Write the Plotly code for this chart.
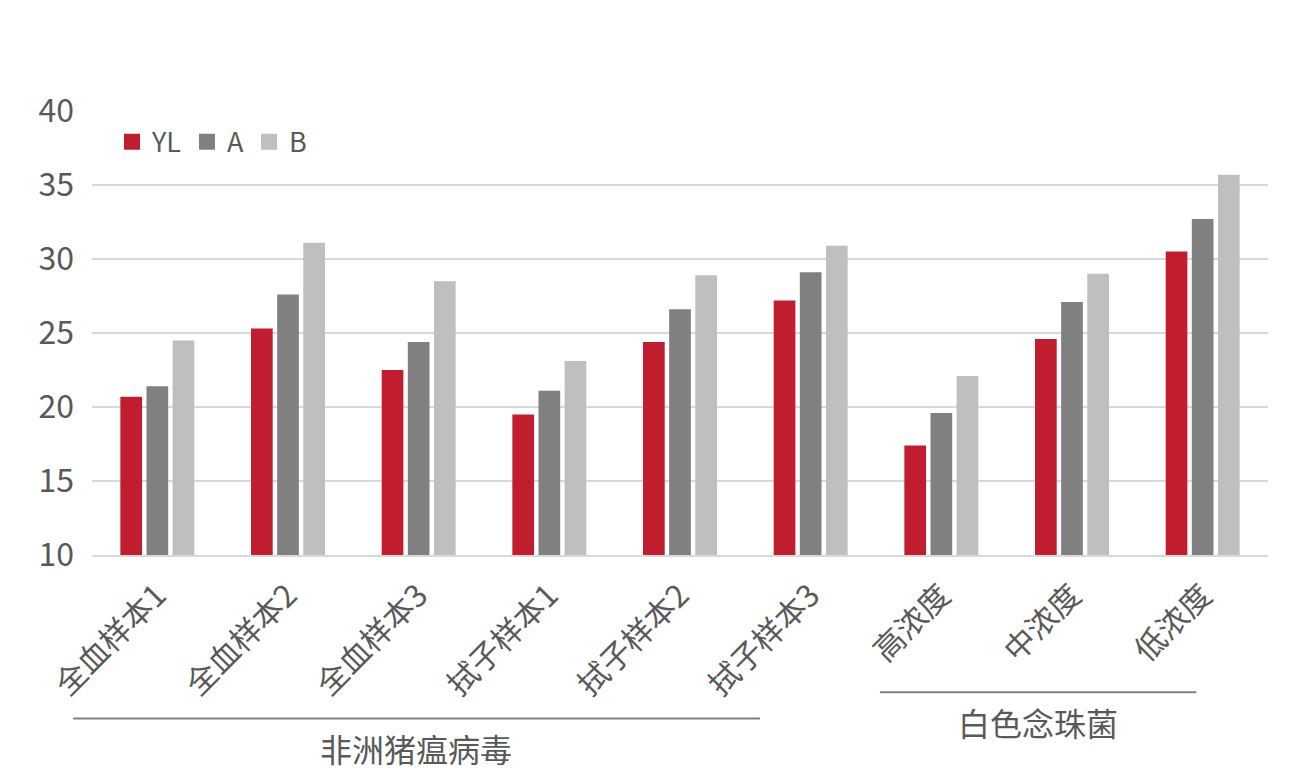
import plotly.graph_objects as go

categories = ["全血样本1", "全血样本2", "全血样本3", "拭子样本1", "拭子样本2", "拭子样本3", "高浓度", "中浓度", "低浓度"]
yl = [20.7, 25.3, 22.5, 19.5, 24.4, 27.2, 17.4, 24.6, 30.5]
a = [21.4, 27.6, 24.4, 21.1, 26.6, 29.1, 19.6, 27.1, 32.7]
b = [24.5, 31.1, 28.5, 23.1, 28.9, 30.9, 22.1, 29.0, 35.7]
series_names = ["YL", "A", "B"]
colors = ["#C01E2E", "#808080", "#BFBFBF"]
group_labels = ["非洲猪瘟病毒", "白色念珠菌"]
y_ticks = [10, 15, 20, 25, 30, 35, 40]

FONT = "Noto Sans CJK SC, Microsoft YaHei, sans-serif"
TXT = "#595959"

fig = go.Figure()
for name, vals, col in zip(series_names, [yl, a, b], colors):
    fig.add_trace(go.Bar(x=categories, y=vals, name=name, showlegend=False,
                         marker=dict(color=col, line=dict(width=0))))
# legend entries with larger square swatches
for name, col in zip(series_names, colors):
    fig.add_trace(go.Scatter(x=[None], y=[None], mode="markers", name=name,
                             marker=dict(symbol="square", size=16, color=col)))

fig.update_layout(
    width=1306, height=776,
    margin=dict(l=92, r=38, t=111, b=221),
    paper_bgcolor="white", plot_bgcolor="white",
    barmode="group", bargap=0.40, bargroupgap=0.17,
    font=dict(family=FONT, size=28, color=TXT),
    legend=dict(orientation="h", x=0.017, y=0.985, xanchor="left", yanchor="top",
                font=dict(size=27, color=TXT), itemwidth=30, tracegroupgap=0,
                bgcolor="rgba(0,0,0,0)"),
    showlegend=True,
)
fig.update_yaxes(range=[10, 40], tickvals=y_ticks, showgrid=True, gridcolor="#D9D9D9", gridwidth=2,
                 zeroline=False, showline=False, ticks="", ticklabelstandoff=17, automargin=False,
                 tickfont=dict(size=32, color=TXT))
fig.update_xaxes(range=[-0.5, 8.5], tickangle=-45, showline=True, linecolor="#D9D9D9", linewidth=2,
                 ticks="", automargin=False, ticklabelstandoff=8, tickfont=dict(size=31, color=TXT))

# group bracket lines and labels
fig.add_shape(type="line", xref="paper", yref="paper", x0=-0.016, x1=0.568, y0=-0.368, y1=-0.368,
              line=dict(color="#808080", width=2))
fig.add_shape(type="line", xref="paper", yref="paper", x0=0.670, x1=0.939, y0=-0.309, y1=-0.309,
              line=dict(color="#808080", width=2))
fig.add_annotation(text=group_labels[0], xref="x", yref="paper", x=1.98, y=-0.435, yanchor="middle",
                   showarrow=False, font=dict(size=32, color=TXT, family=FONT))
fig.add_annotation(text=group_labels[1], xref="x", yref="paper", x=6.74, y=-0.376, yanchor="middle",
                   showarrow=False, font=dict(size=32, color=TXT, family=FONT))

fig.write_html("out.html")
